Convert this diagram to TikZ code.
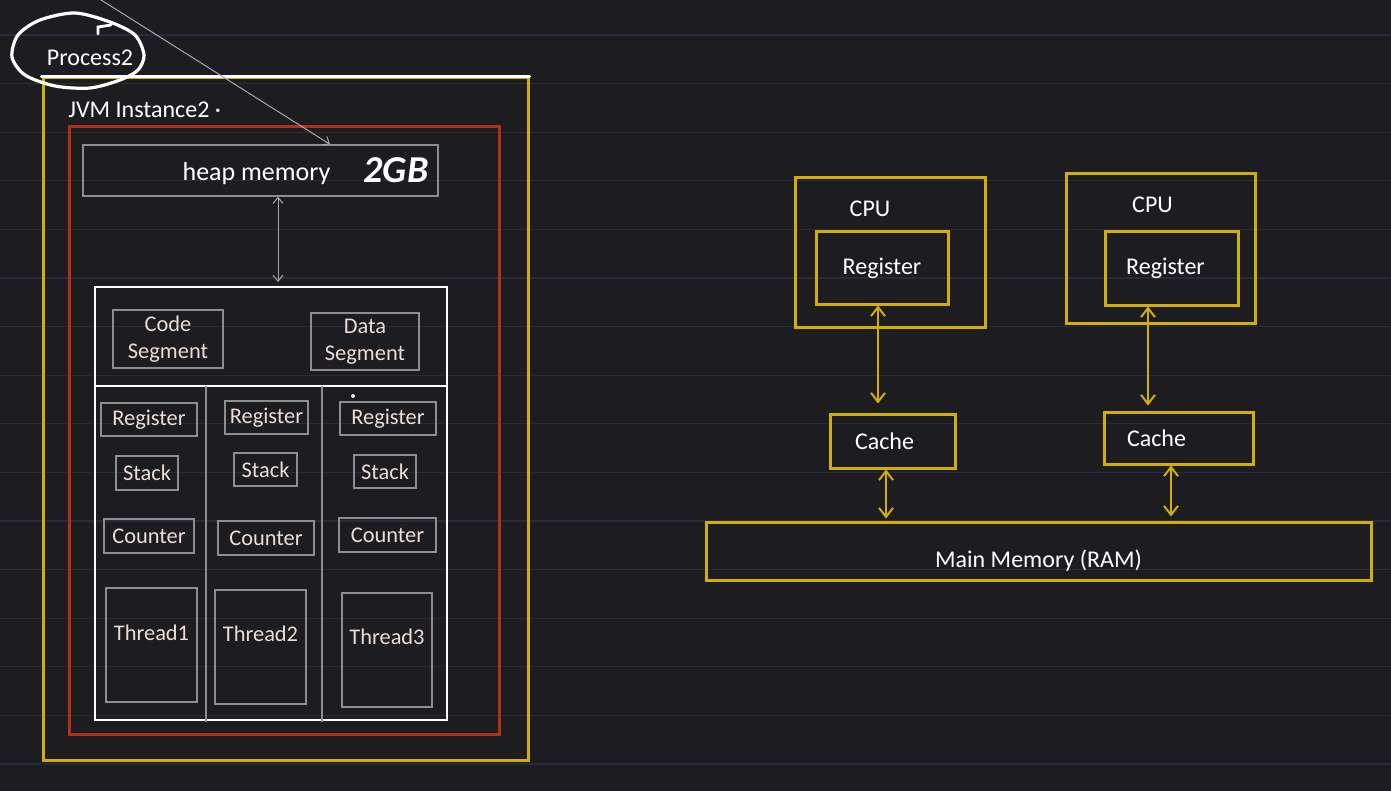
\documentclass[tikz,border=0pt]{standalone}
\usepackage{fontspec}
\setmainfont{Carlito}
\usetikzlibrary{arrows.meta}
\definecolor{bg}{HTML}{1D1C20}
\definecolor{ruled}{HTML}{252C3B}
\definecolor{gold}{HTML}{D2AF08}
\definecolor{jvmred}{HTML}{B52E18}
\definecolor{boxgray}{HTML}{8E8E8E}
\definecolor{arrowgray}{HTML}{A8A8A8}
\definecolor{pinktext}{HTML}{EEDDD6}

\tikzset{
  graybox/.style={draw=boxgray, line width=0.7pt, text=pinktext, align=center, font=\fontsize{11.2}{13.5}\selectfont},
  goldbox/.style={draw=gold, line width=1.5pt, text=white},
  goldarrow/.style={gold, line width=1pt, {Straight Barb[length=4.5pt,width=7pt]}-{Straight Barb[length=4.5pt,width=7pt]}},
  grayarrow/.style={arrowgray, line width=0.5pt, -{Straight Barb[length=3pt,width=5pt]}}
}

\begin{document}
\begin{tikzpicture}[x=0.5pt,y=-0.5pt,
  every node/.style={font=\fontsize{12}{13.5}\selectfont, inner sep=0pt}]

\useasboundingbox (0,0) rectangle (1391,791);
\fill [bg] (0,0) rectangle (1391,791);

\foreach \k in {0,...,15}
   \draw [ruled, line width=0.6pt] (0,{35+48.6*\k}) -- (1391,{35+48.6*\k});

% process and jvm
\node [draw=gold, line width=1.5pt, minimum width=242.5pt, minimum height=341pt] (proc) at (285.5,419) {};
\draw [white, line width=1.6pt, line cap=round] (proc.north west) -- (proc.north east);
\node [text=white] (ptext) at (90,58) {Process2};
\draw [white, line width=1.6pt] plot [smooth cycle] coordinates
   {(110,22) (135,35) (144,55) (138,70) (120,80) (90,88) (55,86) (25,75) (12,57) (18,35) (40,20) (75,13)};
\draw [white, line width=1.4pt, line cap=round] (98,34) -- (98,27) -- (111,25);

\node [anchor=west, text=white] (jvm) at (68,110) {JVM Instance2 ·};
\node [draw=jvmred, line width=1.5pt, minimum width=215pt, minimum height=303.5pt] (jvm box) at (284,430.5) {};

\node [draw=boxgray, line width=0.7pt, minimum width=177.5pt, minimum height=25.5pt, text=white,
   label={[text=white, font=\fontsize{13}{14}\selectfont, xshift=-2pt, yshift=-1.5pt]center:heap memory}] (heap) at (260.5,170.5) {};
\node [text=white, font=\fontsize{19}{19}\selectfont\bfseries\itshape] (gb) at (396,170) {2GB};

\coordinate (from) at (98,-2);
\draw [grayarrow] (from) -- ([xshift=34.75pt]heap.north);

\node [draw=white, line width=1pt, minimum width=176pt, minimum height=216.5pt] (mem) at (271,503.5) {};
\draw [grayarrow, {Straight Barb[length=3pt,width=5pt]}-{Straight Barb[length=3pt,width=5pt]}, shorten >=2pt]
   ([xshift=8.75pt]heap.south) -- ([xshift=8.75pt]heap.south |- mem.north);

\draw [white, line width=1pt] (mem.west |- 0,386) -- (mem.east |- 0,386);
\draw [boxgray, line width=0.6pt] (206,386) -- (206,722);
\draw [boxgray, line width=0.6pt] (322,386) -- (322,722);

\node [graybox, minimum width=55pt, minimum height=29pt] (code) at (168,339) {Code\\Segment};
\node [graybox, minimum width=54pt, minimum height=28.5pt] (data) at (365,341.5) {Data\\Segment};

% thread columns
\node [graybox, minimum width=48pt, minimum height=16.5pt] (reg a) at (149,419.5) {Register};
\node [graybox, minimum width=31pt, minimum height=17pt] (stack a) at (147,473) {Stack};
\node [graybox, minimum width=45pt, minimum height=17pt] (count a) at (149,536) {Counter};
\node [graybox, minimum width=45.5pt, minimum height=57pt, label={[text=pinktext, font=\fontsize{11.2}{13}\selectfont, yshift=6pt]center:Thread1}] (thread a) at (151.5,645) {};

\node [graybox, minimum width=41.5pt, minimum height=16.5pt] (reg b) at (266.5,417.5) {Register};
\node [graybox, minimum width=31.5pt, minimum height=16.5pt] (stack b) at (265.5,469.5) {Stack};
\node [graybox, minimum width=48pt, minimum height=17pt] (count b) at (266,538) {Counter};
\node [graybox, minimum width=45.5pt, minimum height=57pt, label={[text=pinktext, font=\fontsize{11.2}{13}\selectfont, yshift=6.5pt]center:Thread2}] (thread b) at (260.5,647) {};

\node [graybox, minimum width=48pt, minimum height=16.5pt] (reg c) at (388,418.5) {Register};
\node [graybox, minimum width=31pt, minimum height=16.5pt] (stack c) at (385,471.5) {Stack};
\node [graybox, minimum width=48.5pt, minimum height=17pt] (count c) at (387.5,535) {Counter};
\node [graybox, minimum width=45pt, minimum height=57pt, label={[text=pinktext, font=\fontsize{11.2}{13}\selectfont, yshift=6.5pt]center:Thread3}] (thread c) at (387,650) {};
\fill [pinktext] (353,396) circle (1pt);

% cpus and memory
\node [goldbox, minimum width=95pt, minimum height=74.5pt, label={[text=white, xshift=-10pt, yshift=22pt]center:CPU}] (cpu1) at (890,252.5) {};
\node [goldbox, minimum width=66pt, minimum height=36pt] (reg1) at (882,268) {Register};
\node [goldbox, minimum width=94.5pt, minimum height=74.5pt, label={[text=white, xshift=-4pt, yshift=22pt]center:CPU}] (cpu2) at (1160.5,248.5) {};
\node [goldbox, minimum width=66.5pt, minimum height=36.5pt, label={[text=white, xshift=-3pt]center:Register}] (reg2) at (1171.5,268.5) {};

\node [goldbox, minimum width=62.5pt, minimum height=27pt, label={[text=white, xshift=-4pt]center:Cache}] (cache1) at (892.5,441) {};
\node [goldbox, minimum width=74.5pt, minimum height=26pt, label={[text=white, xshift=-11pt]center:Cache}] (cache2) at (1178.5,438) {};

\node [goldbox, minimum width=332.5pt, minimum height=29pt, label={[text=white, yshift=-5pt]center:Main Memory (RAM)}] (main) at (1038.5,551) {};

\draw [goldarrow, shorten >=4.5pt] ([xshift=-2pt]reg1.south) -- ([xshift=-2pt]reg1.south |- cache1.north);
\draw [goldarrow, shorten >=1pt] ([xshift=-3.25pt]cache1.south) -- ([xshift=-3.25pt]cache1.south |- main.north);
\draw [goldarrow, shorten >=2.5pt] ([xshift=-11.75pt]reg2.south) -- ([xshift=-11.75pt]reg2.south |- cache2.north);
\draw [goldarrow, shorten >=2pt] ([xshift=-3.75pt]cache2.south) -- ([xshift=-3.75pt]cache2.south |- main.north);

\end{tikzpicture}
\end{document}
